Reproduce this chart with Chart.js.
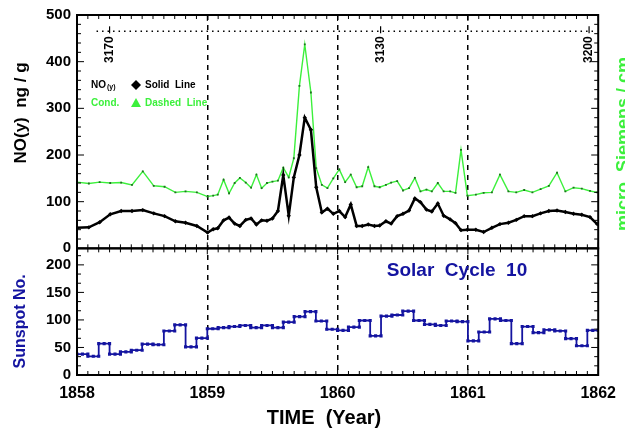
<!DOCTYPE html>
<html>
<head>
<meta charset="utf-8">
<script src="https://cdn.jsdelivr.net/npm/chart.js@4/dist/chart.umd.min.js"></script>
<style>
  body { margin: 0; background: #fff; }
  canvas { display: block; }
</style>
</head>
<body>
<canvas id="iceChart" width="625" height="430"></canvas>
<script>
// sample times (decimal year), monthly in 1858 and 1861, twice a month in 1859-1860
const years = [
  1858.000, 1858.091, 1858.174, 1858.255, 1858.339, 1858.422, 1858.505, 1858.589, 1858.672, 1858.755, 1858.833, 1858.920,
  1859.002, 1859.045, 1859.080, 1859.125, 1859.167, 1859.210, 1859.250, 1859.295, 1859.336, 1859.377, 1859.417, 1859.458,
  1859.500, 1859.542, 1859.583, 1859.625, 1859.664, 1859.707, 1859.748, 1859.795, 1859.836, 1859.879, 1859.922, 1859.967,
  1860.013, 1860.058, 1860.101, 1860.146, 1860.189, 1860.235, 1860.283, 1860.323, 1860.371, 1860.411, 1860.457, 1860.502,
  1860.548, 1860.593, 1860.636, 1860.682, 1860.723, 1860.769, 1860.814, 1860.864, 1860.905, 1860.947, 1860.996,
  1861.061, 1861.121, 1861.184, 1861.246, 1861.311, 1861.371, 1861.432, 1861.495, 1861.558, 1861.621, 1861.684,
  1861.748, 1861.811, 1861.874, 1861.937, 1861.992
];
const noyValues = [
  44, 45, 56, 73, 80, 80, 82, 75, 69, 58, 55, 48,
  34, 41, 43, 60, 66, 53, 48, 61, 64, 51, 60, 59,
  64, 80, 157, 70, 152, 200, 280, 254, 131, 77, 85, 74,
  80, 67, 94, 48, 48, 51, 48, 49, 58, 53, 69, 74,
  81, 107, 99, 83, 79, 96, 70, 62, 54, 39, 40,
  40, 35, 44, 52, 55, 61, 69, 69, 75, 80, 81,
  78, 74, 72, 67, 52
];
const condValues = [
  142, 139, 142, 140, 141, 136, 165, 134, 132, 120, 122, 120,
  111, 113, 115, 147, 118, 140, 151, 141, 130, 158, 129, 140,
  143, 145, 173, 152, 193, 348, 437, 334, 172, 136, 129, 150,
  169, 142, 158, 131, 133, 174, 133, 131, 136, 141, 144, 124,
  129, 151, 122, 126, 122, 140, 122, 122, 119, 211, 113,
  115, 119, 120, 158, 122, 120, 125, 120, 127, 134, 162,
  122, 130, 128, 123, 120
];
// monthly sunspot numbers, Jan 1858 - Dec 1861
const sunspotStart = 1858;
const sunspotValues = [
  38, 34, 57, 38, 42, 45, 56, 55, 80, 91, 51, 67,
  84, 86, 88, 90, 86, 90, 86, 96, 106, 115, 98, 83,
  81, 87, 99, 71, 107, 109, 116, 99, 92, 90, 98, 97,
  62, 78, 102, 99, 57, 88, 77, 82, 80, 66, 53, 81
];
const yearTicks = [1858, 1859, 1860, 1861, 1862];
const depthLabels = ["3170", "3130", "3200"];
const depthYears = [1858.25, 1860.33, 1861.93];

const BLUE = "#1414a0";
const GREEN = "#3cf03c";
const FONT = "'Liberation Sans', Arial, sans-serif";

Chart.defaults.font.family = FONT;
Chart.defaults.font.weight = "bold";
Chart.defaults.color = "#000";

const noyPoints = years.map((t, i) => ({ x: t, y: noyValues[i] }));
const condPoints = years.map((t, i) => ({ x: t, y: condValues[i] }));
const sunPoints = [];
sunspotValues.forEach((v, i) => {
  const s = sunspotStart + i / 12;
  sunPoints.push({ x: s, y: v }, { x: s + 1 / 24, y: v }, { x: s + 1 / 12, y: v });
});

function line(ctx, x1, y1, x2, y2) {
  ctx.beginPath();
  ctx.moveTo(x1, y1);
  ctx.lineTo(x2, y2);
  ctx.stroke();
}

function vtext(ctx, txt, x, y, align) {
  ctx.save();
  ctx.translate(x, y);
  ctx.rotate(-Math.PI / 2);
  ctx.textAlign = align || "center";
  ctx.textBaseline = "middle";
  ctx.fillText(txt, 0, 0);
  ctx.restore();
}

// frames, inward ticks, depth scale, legend and titles
const decor = {
  id: "decor",
  afterDatasetsDraw(chart) {
    const { ctx, chartArea: a, scales } = chart;
    const x = scales.x, yt = scales.yNO, yb = scales.ySun;
    ctx.save();
    ctx.strokeStyle = "#000";
    ctx.lineWidth = 1;
    for (let m = 0; m <= 48; m++) {
      const px = x.getPixelForValue(1858 + m / 12);
      const len = m % 12 === 0 ? 6 : 4;
      line(ctx, px, a.top, px, a.top + len);
      line(ctx, px, yt.bottom - len, px, yt.bottom + len);
      line(ctx, px, a.bottom, px, a.bottom - len);
    }
    for (let v = 0; v <= 500; v += 20) {
      const py = yt.getPixelForValue(v);
      const len = v % 100 ? 4 : 7;
      line(ctx, a.left, py, a.left + len, py);
      line(ctx, a.right, py, a.right - len, py);
    }
    for (let k = 0; k <= 13; k++) {
      const py = yb.getPixelForValue(k * 50 / 3);
      const len = k % 3 ? 4 : 7;
      line(ctx, a.left, py, a.left + len, py);
      line(ctx, a.right, py, a.right - len, py);
    }
    ctx.lineWidth = 2;
    ctx.strokeRect(a.left, yt.top, a.right - a.left, yt.bottom - yt.top);
    ctx.strokeRect(a.left, yb.top, a.right - a.left, yb.bottom - yb.top);

    // depth scale
    const dy = yt.getPixelForValue(465);
    ctx.lineWidth = 1.5;
    ctx.setLineDash([1.5, 4]);
    line(ctx, x.getPixelForValue(1858.15), dy, x.getPixelForValue(1861.96), dy);
    ctx.setLineDash([]);
    ctx.fillStyle = "#000";
    ctx.font = "bold 12px " + FONT;
    depthLabels.forEach((lab, i) => {
      const px = x.getPixelForValue(depthYears[i]);
      ctx.lineWidth = 1.2;
      line(ctx, px, dy - 5, px, dy + 2);
      vtext(ctx, lab, px, dy + 5, "right");
    });

    // legend
    const lx = a.left + 14;
    ctx.textAlign = "left";
    ctx.textBaseline = "middle";
    ctx.font = "bold 10px " + FONT;
    ctx.fillText("NO", lx, yt.top + 70);
    ctx.font = "bold 7px " + FONT;
    ctx.fillText("(y)", lx + 16, yt.top + 72);
    ctx.font = "bold 10px " + FONT;
    ctx.fillText("Solid  Line", a.left + 68, yt.top + 70);
    ctx.beginPath();
    const dx = a.left + 59, dyl = yt.top + 70;
    ctx.moveTo(dx, dyl - 5); ctx.lineTo(dx + 5, dyl); ctx.lineTo(dx, dyl + 5); ctx.lineTo(dx - 5, dyl);
    ctx.closePath(); ctx.fill();
    ctx.fillStyle = GREEN;
    ctx.fillText("Cond.", lx, yt.top + 88);
    ctx.fillText("Dashed  Line", a.left + 68, yt.top + 88);
    ctx.beginPath();
    const ty = yt.top + 88;
    ctx.moveTo(dx, ty - 5); ctx.lineTo(dx + 5, ty + 4); ctx.lineTo(dx - 5, ty + 4);
    ctx.closePath(); ctx.fill();

    // solar cycle label
    ctx.fillStyle = BLUE;
    ctx.textAlign = "center";
    ctx.font = "bold 19px " + FONT;
    ctx.fillText("Solar  Cycle  10", a.left + 380, yb.top + 22);

    // axis titles
    ctx.fillStyle = "#000";
    ctx.font = "bold 17px " + FONT;
    vtext(ctx, "NO(y)  ng / g", 21, yt.top + 98);
    ctx.fillStyle = BLUE;
    ctx.font = "bold 16px " + FONT;
    vtext(ctx, "Sunspot No.", 21, yb.top + 73);
    ctx.fillStyle = GREEN;
    ctx.font = "bold 18px " + FONT;
    vtext(ctx, "micro  Siemens / cm", 624, yt.top + 129);
    ctx.fillStyle = "#000";
    ctx.font = "bold 20px " + FONT;
    ctx.fillText("TIME  (Year)", 324, a.bottom + 43);
    ctx.restore();
  }
};

new Chart(document.getElementById("iceChart").getContext("2d"), {
  type: "line",
  data: {
    datasets: [
      {
        label: "NO(y)",
        data: noyPoints,
        yAxisID: "yNO",
        borderColor: "#000",
        borderWidth: 2.5,
        pointStyle: "rectRot",
        pointRadius: 2.2,
        pointBackgroundColor: "#000",
        pointBorderWidth: 0,
        tension: 0,
      },
      {
        label: "Cond.",
        data: condPoints,
        yAxisID: "yNO",
        borderColor: GREEN,
        borderWidth: 1.4,
        pointStyle: "rect",
        pointRadius: 1.3,
        pointBackgroundColor: "#1f6f1f",
        pointBorderWidth: 0,
        tension: 0,
      },
      {
        label: "Sunspot No.",
        data: sunPoints,
        yAxisID: "ySun",
        borderColor: BLUE,
        borderWidth: 1.8,
        pointStyle: "rect",
        pointRadius: 2.2,
        pointBackgroundColor: BLUE,
        pointBorderWidth: 0,
        tension: 0,
      },
    ],
  },
  options: {
    responsive: false,
    animation: false,
    layout: { padding: { top: 14, right: 21, left: 0, bottom: 0 } },
    plugins: { legend: { display: false }, tooltip: { enabled: false } },
    scales: {
      x: {
        type: "linear",
        min: 1858,
        max: 1862,
        afterBuildTicks: (s) => { s.ticks = yearTicks.map((v) => ({ value: v })); },
        afterFit: (s) => { s.height = 55; },
        ticks: { font: { size: 16, weight: "bold" }, padding: 9, autoSkip: false, callback: (v) => String(v) },
        grid: {
          drawTicks: false,
          lineWidth: 1.5,
          color: (c) => (c.tick && (c.tick.value === 1858 || c.tick.value === 1862) ? "rgba(0,0,0,0)" : "#000"),
        },
        border: { display: false, dash: [5, 5] },
      },
      ySun: {
        type: "linear",
        position: "left",
        stack: "panels",
        stackWeight: 127,
        min: 0,
        max: 230,
        afterFit: (s) => { s.width = 77; },
        ticks: { stepSize: 50, includeBounds: false, autoSkip: false, padding: 6, font: { size: 15, weight: "bold" } },
        grid: { display: false, drawTicks: false },
        border: { display: false },
      },
      yNO: {
        type: "linear",
        position: "left",
        stack: "panels",
        stackWeight: 234,
        min: 0,
        max: 500,
        afterFit: (s) => { s.width = 77; },
        ticks: { stepSize: 100, autoSkip: false, padding: 6, font: { size: 15, weight: "bold" } },
        grid: { display: false, drawTicks: false },
        border: { display: false },
      },
    },
  },
  plugins: [decor],
});
</script>
</body>
</html>
